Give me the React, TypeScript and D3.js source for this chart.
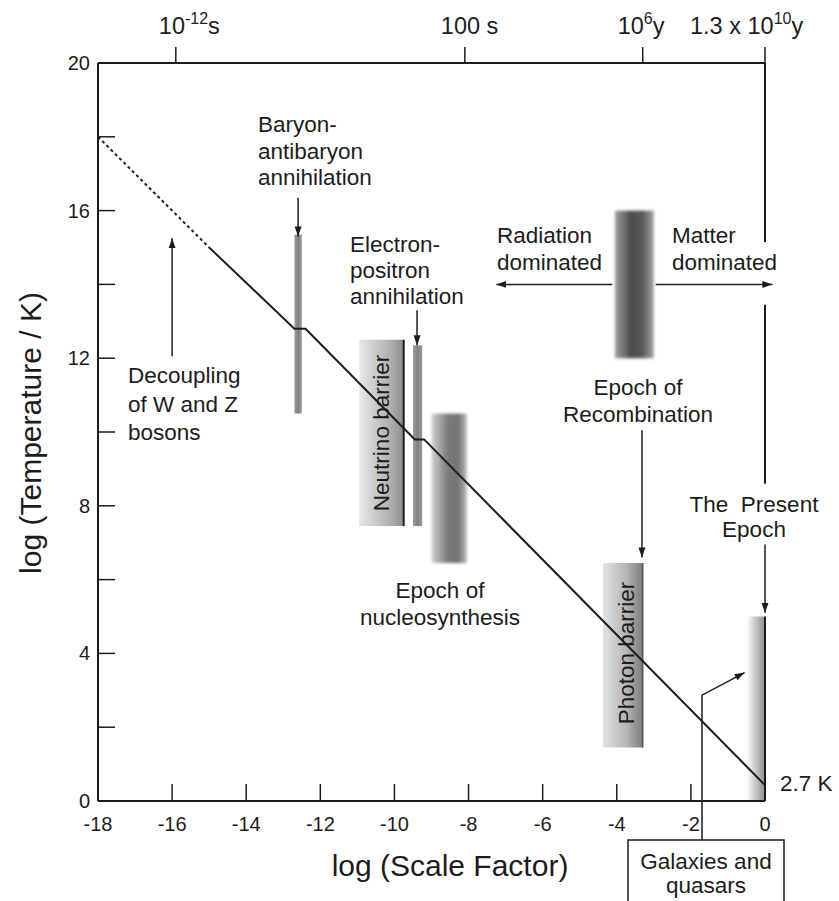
import React from 'react';
import * as d3 from 'd3';

// axis ticks
const xTicks = [-18, -16, -14, -12, -10, -8, -6, -4, -2, 0];
const yTicks = [0, 2, 4, 6, 8, 10, 12, 14, 16, 18, 20];
const yTickLabels = [0, 4, 8, 12, 16, 20];

// top time axis (position in log scale factor)
const timeTickX = [-15.9, -8.1, -3.3, 0];
const timeBase = ['10', '100 s', '10', '1.3 x 10'];
const timeSup = ['-12', '', '6', '10'];
const timeUnit = ['s', '', 'y', 'y'];

// temperature history: extrapolated part and main part
const earlyX = [-18, -15];
const earlyT = [18, 15];
const coolX = [-15, -12.7, -12.4, -9.45, -9.2, 0];
const coolT = [15, 12.8, 12.8, 9.8, 9.8, 0.43];

// shaded bands
const bandNames = ['baryon', 'neutrino', 'electron', 'nucleo', 'recomb', 'photon', 'present'];
const bandX0 = [-12.7, -10.95, -9.5, -9.0, -4.05, -4.37, -0.5];
const bandX1 = [-12.5, -9.75, -9.25, -8.05, -3.0, -3.3, 0];
const bandT0 = [10.5, 7.45, 7.45, 6.45, 12.0, 1.45, 0];
const bandT1 = [15.35, 12.5, 12.35, 10.5, 16.0, 6.45, 5.0];

const W = 839;
const H = 901;
const font = '"Liberation Sans", Arial, Helvetica, sans-serif';
const ink = '#1c1c1c';

export default function App() {
  const x = d3.scaleLinear().domain([-18, 0]).range([98, 765]);
  const y = d3.scaleLinear().domain([0, 20]).range([801, 63]);

  const pathOf = (xs: number[], ts: number[]) =>
    d3.line<number>()
      .x((d) => x(d))
      .y((_, i) => y(ts[i]))(xs) || '';

  // arrows in data coordinates [x1, t1, x2, t2]
  const arrows = [
    [-12.6, 16.35, -12.6, 15.3],
    [-9.39, 13.3, -9.39, 12.35],
    [-16.0, 12.05, -16.0, 15.25],
    [-3.32, 10.05, -3.32, 6.6],
    [0, 6.95, 0, 5.1],
    [-4.12, 14, -7.25, 14],
    [-2.95, 14, 0.2, 14],
  ];

  const galaxyPath = `M${x(-1.7)},${y(-1.06)} L${x(-1.7)},${y(2.87)} L${x(-0.55)},${y(3.48)}`;

  const textStyle = { fontFamily: font, fontSize: 22.5, fill: ink } as const;

  const block = (lines: string[], tx: number, ty: number, anchor: string, gap = 26.5) => (
    <text x={tx} y={ty} textAnchor={anchor} style={textStyle}>
      {lines.map((l, i) => (
        <tspan key={i} x={tx} dy={i === 0 ? 0 : gap} style={{ whiteSpace: 'pre' }}>
          {l}
        </tspan>
      ))}
    </text>
  );

  return (
    <svg
      width={W}
      height={H}
      style={{ position: 'absolute', left: 0, top: 0, background: '#fff' }}
    >
      <defs>
        <marker id="ah" viewBox="0 0 10 10" refX="10" refY="5" markerWidth="10" markerHeight="10"
          markerUnits="userSpaceOnUse" orient="auto">
          <path d="M0,1.5 L10,5 L0,8.5 Z" fill={ink} />
        </marker>
        <linearGradient id="g-baryon" x1="0" x2="1" y1="0" y2="0">
          <stop offset="0" stopColor="#a0a0a0" />
          <stop offset="0.5" stopColor="#7e7e7e" />
          <stop offset="1" stopColor="#9c9c9c" />
        </linearGradient>
        <linearGradient id="g-electron" x1="0" x2="1" y1="0" y2="0">
          <stop offset="0" stopColor="#a0a0a0" />
          <stop offset="0.5" stopColor="#808080" />
          <stop offset="1" stopColor="#9c9c9c" />
        </linearGradient>
        <linearGradient id="g-neutrino" x1="0" x2="1" y1="0" y2="0">
          <stop offset="0" stopColor="#e8e8e8" />
          <stop offset="0.7" stopColor="#b0b0b0" />
          <stop offset="1" stopColor="#8c8c8c" />
        </linearGradient>
        <linearGradient id="g-nucleo" x1="0" x2="1" y1="0" y2="0">
          <stop offset="0" stopColor="#cfcfcf" />
          <stop offset="0.45" stopColor="#7c7c7c" />
          <stop offset="0.75" stopColor="#727272" />
          <stop offset="1" stopColor="#b8b8b8" />
        </linearGradient>
        <linearGradient id="g-recomb" x1="0" x2="1" y1="0" y2="0">
          <stop offset="0" stopColor="#a0a0a0" />
          <stop offset="0.4" stopColor="#4c4c4c" />
          <stop offset="0.7" stopColor="#575757" />
          <stop offset="1" stopColor="#a4a4a4" />
        </linearGradient>
        <linearGradient id="g-photon" x1="0" x2="1" y1="0" y2="0">
          <stop offset="0" stopColor="#e2e2e2" />
          <stop offset="0.6" stopColor="#b4b4b4" />
          <stop offset="1" stopColor="#7c7c7c" />
        </linearGradient>
        <linearGradient id="g-present" x1="0" x2="1" y1="0" y2="0">
          <stop offset="0" stopColor="#ffffff" />
          <stop offset="1" stopColor="#8e8e8e" />
        </linearGradient>
        <filter id="soft" x="-20%" y="-10%" width="140%" height="120%">
          <feGaussianBlur stdDeviation="1.6" />
        </filter>
      </defs>

      {/* shaded bands */}
      {bandNames.map((n, i) => (
        <rect
          key={n}
          x={x(bandX0[i])}
          y={y(bandT1[i])}
          width={x(bandX1[i]) - x(bandX0[i])}
          height={y(bandT0[i]) - y(bandT1[i])}
          fill={`url(#g-${n})`}
          filter={n === 'nucleo' || n === 'recomb' ? 'url(#soft)' : undefined}
        />
      ))}
      {/* dark right edges of barrier bands */}
      <line x1={x(bandX1[1])} x2={x(bandX1[1])} y1={y(bandT1[1])} y2={y(bandT0[1])} stroke={ink} strokeWidth={2} />
      <line x1={x(bandX1[5])} x2={x(bandX1[5])} y1={y(bandT1[5])} y2={y(bandT0[5])} stroke="#555" strokeWidth={1.5} />

      {/* frame */}
      <g stroke={ink} strokeWidth={2} fill="none">
        <line x1={x(-18)} x2={x(0)} y1={y(20)} y2={y(20)} />
        <line x1={x(-18)} x2={x(0)} y1={y(0)} y2={y(0)} />
        <line x1={x(-18)} x2={x(-18)} y1={y(20)} y2={y(0)} />
        <line x1={x(0)} x2={x(0)} y1={y(20)} y2={y(15.15)} />
        <line x1={x(0)} x2={x(0)} y1={y(13.45)} y2={y(8.6)} />
        <line x1={x(0)} x2={x(0)} y1={y(5)} y2={y(0)} />
      </g>

      {/* bottom ticks */}
      {xTicks.map((t) => (
        <g key={t}>
          <line x1={x(t)} x2={x(t)} y1={y(0)} y2={y(0) - 17} stroke={ink} strokeWidth={1.5} />
          <text x={x(t)} y={831} textAnchor="middle" style={{ fontFamily: font, fontSize: 20, fill: ink }}>
            {t}
          </text>
        </g>
      ))}
      {/* left ticks */}
      {yTicks.map((t) => (
        <line key={t} x1={x(-18)} x2={x(-18) + 17} y1={y(t)} y2={y(t)} stroke={ink} strokeWidth={1.5} />
      ))}
      {yTickLabels.map((t) => (
        <text key={t} x={90} y={y(t) + 7} textAnchor="end" style={{ fontFamily: font, fontSize: 20, fill: ink }}>
          {t}
        </text>
      ))}

      {/* top time axis */}
      {timeTickX.map((t, i) => {
        const offs = [-17, -24, -25, -75][i];
        return (
          <g key={t}>
            <line x1={x(t)} x2={x(t)} y1={y(20)} y2={y(20) - 16} stroke={ink} strokeWidth={1.5} />
            <text x={x(t) + offs} y={34} style={{ fontFamily: font, fontSize: 23.5, fill: ink, whiteSpace: 'pre' }}>
              {timeBase[i]}
              {timeSup[i] && (
                <tspan dy={-10} style={{ fontSize: 16 }}>
                  {timeSup[i]}
                </tspan>
              )}
              {timeUnit[i] && <tspan dy={10}>{timeUnit[i]}</tspan>}
            </text>
          </g>
        );
      })}

      {/* temperature line */}
      <path d={pathOf(earlyX, earlyT)} fill="none" stroke={ink} strokeWidth={2} strokeDasharray="3,3" />
      <path d={pathOf(coolX, coolT)} fill="none" stroke={ink} strokeWidth={2} />

      {/* arrows */}
      {arrows.map((a, i) => (
        <line key={i} x1={x(a[0])} y1={y(a[1])} x2={x(a[2])} y2={y(a[3])} stroke={ink} strokeWidth={1.5}
          markerEnd="url(#ah)" />
      ))}
      <path d={galaxyPath} fill="none" stroke={ink} strokeWidth={1.5} markerEnd="url(#ah)" />

      {/* galaxies box */}
      <rect x={628} y={840} width={156} height={66} fill="none" stroke={ink} strokeWidth={1.5} />
      {block(['Galaxies and', 'quasars'], 706, 869, 'middle', 24)}

      {/* annotations */}
      {block(['Baryon-', 'antibaryon', 'annihilation'], 258, 132, 'start')}
      {block(['Electron-', 'positron', 'annihilation'], 350, 252, 'start', 26)}
      {block(['Decoupling', 'of W and Z', 'bosons'], 128, 383, 'start', 28.5)}
      {block(['Radiation', 'dominated'], 497, 243, 'start', 27)}
      {block(['Matter', 'dominated'], 672, 243, 'start', 27)}
      {block(['Epoch of', 'Recombination'], 638, 395, 'middle', 27)}
      {block(['Epoch of', 'nucleosynthesis'], 440, 598, 'middle', 27)}
      {block(['The  Present', 'Epoch'], 754, 512, 'middle', 25)}
      {block(['2.7 K'], 780, 791, 'start')}

      <text transform={`translate(389,433) rotate(-90)`} textAnchor="middle" style={textStyle}>
        Neutrino barrier
      </text>
      <text transform={`translate(634,653) rotate(-90)`} textAnchor="middle" style={textStyle}>
        Photon barrier
      </text>

      {/* axis titles */}
      <text x={450} y={876} textAnchor="middle" style={{ fontFamily: font, fontSize: 30, fill: ink }}>
        log (Scale Factor)
      </text>
      <text transform="translate(41,433) rotate(-90)" textAnchor="middle"
        style={{ fontFamily: font, fontSize: 30, fill: ink }}>
        log (Temperature / K)
      </text>
    </svg>
  );
}
